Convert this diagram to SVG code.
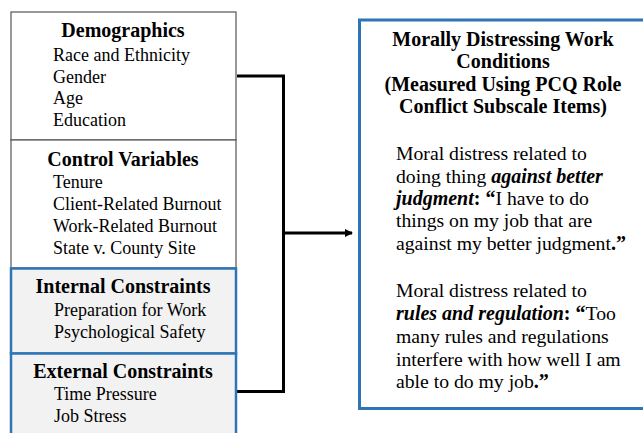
<svg xmlns="http://www.w3.org/2000/svg" width="643" height="433" viewBox="0 0 643 433">
<defs>
<style>
text{font-family:"Liberation Serif","Times New Roman",serif;font-size:18px;fill:#000}
.body{font-size:19.7px}
.h{font-weight:bold;font-size:20px}
.b{font-weight:bold;font-size:20px}
.bi{font-weight:bold;font-style:italic;font-size:20px}
.c{text-anchor:middle}
.plain{fill:#fff;stroke:#555;stroke-width:1.2}
.blue{fill:#f2f2f2;stroke:#2e75b6;stroke-width:2.5}
.conn{fill:none;stroke:#000;stroke-width:3}
</style>
<marker id="ah" markerWidth="8" markerHeight="8" refX="7" refY="4" orient="auto" markerUnits="userSpaceOnUse">
<path d="M0,0 L8,4 L0,8 Z" fill="#000"/>
</marker>
</defs>
<rect width="643" height="433" fill="#fff"/>
<g id="connectors">
<path class="conn" d="M237,76 H283.5 V391.5 H237"/>
<path class="conn" d="M283.5,233 H352" marker-end="url(#ah)"/>
</g>
<g id="demographics">
<rect class="plain" x="11" y="12" width="225" height="128"/>
<text class="h c" x="123" y="37">Demographics</text>
<text x="53" y="61">Race and Ethnicity</text>
<text x="53" y="83">Gender</text>
<text x="53" y="104">Age</text>
<text x="53" y="126">Education</text>
</g>
<g id="control">
<rect class="plain" x="11" y="140" width="225" height="128"/>
<text class="h c" x="123" y="166">Control Variables</text>
<text x="53" y="188">Tenure</text>
<text x="53" y="210">Client-Related Burnout</text>
<text x="53" y="232">Work-Related Burnout</text>
<text x="53" y="254">State v. County Site</text>
</g>
<g id="internal">
<rect class="blue" x="11" y="268.5" width="225" height="85"/>
<text class="h c" x="123" y="293">Internal Constraints</text>
<text x="54" y="316">Preparation for Work</text>
<text x="54" y="338">Psychological Safety</text>
</g>
<g id="external">
<rect class="blue" x="11" y="353.5" width="225" height="90"/>
<text class="h c" x="123" y="378">External Constraints</text>
<text x="54" y="400">Time Pressure</text>
<text x="54" y="422">Job Stress</text>
</g>
<g id="outcome">
<rect x="359.5" y="20" width="300" height="388.5" fill="#fff" stroke="#2e75b6" stroke-width="3"/>
<text class="h c" x="503" y="46">Morally Distressing Work</text>
<text class="h c" x="503" y="68">Conditions</text>
<text class="h c" x="503" y="91">(Measured Using PCQ Role</text>
<text class="h c" x="503" y="113">Conflict Subscale Items)</text>
<text class="body" x="396" y="160">Moral distress related to</text>
<text class="body" x="396" y="183">doing thing <tspan class="bi">against better</tspan></text>
<text class="body" x="396" y="205"><tspan class="bi">judgment</tspan><tspan class="b">: “</tspan>I have to do</text>
<text class="body" x="396" y="227">things on my job that are</text>
<text class="body" x="396" y="250">against my better judgment<tspan class="b">.”</tspan></text>
<text class="body" x="396" y="297">Moral distress related to</text>
<text class="body" x="396" y="320"><tspan class="bi">rules and regulation</tspan><tspan class="b">: “</tspan>Too</text>
<text class="body" x="396" y="343">many rules and regulations</text>
<text class="body" x="396" y="366">interfere with how well I am</text>
<text class="body" x="396" y="388">able to do my job<tspan class="b">.”</tspan></text>
</g>
</svg>
